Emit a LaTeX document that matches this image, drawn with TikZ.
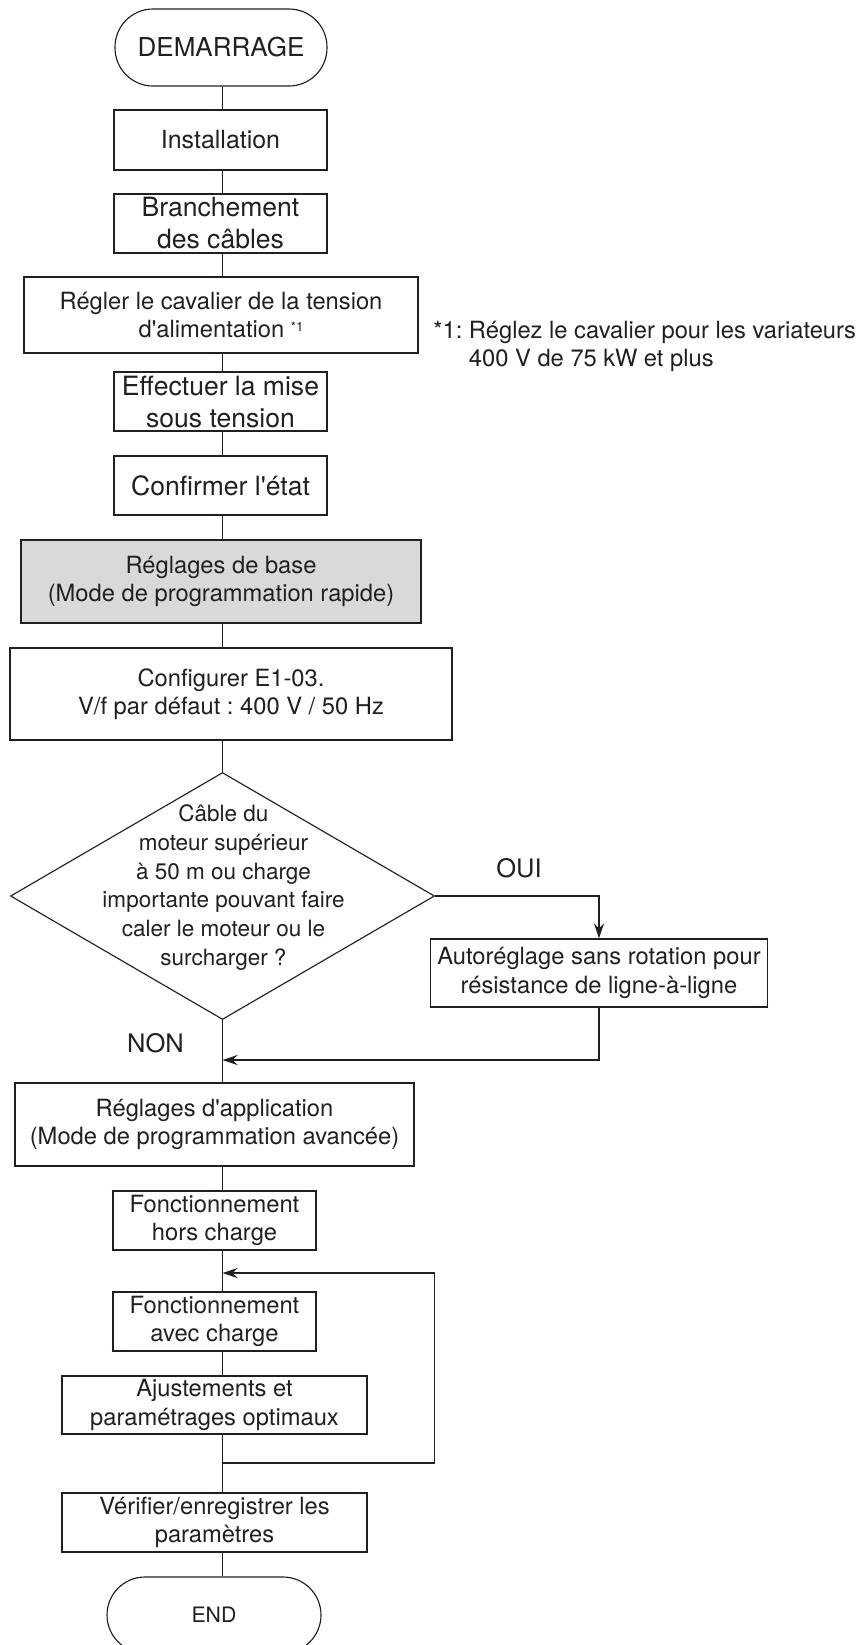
\documentclass[tikz,border=0pt]{standalone}
\usepackage{fontspec}
\setmainfont{TeX Gyre Heros}[Ligatures=TeXOff]
\usepackage{tikz}
\usetikzlibrary{arrows.meta,positioning,shapes.geometric}
\definecolor{ink}{HTML}{231F20}
\definecolor{shade}{HTML}{D9D9D9}
\frenchspacing
\newcommand{\largetxt}{\fontsize{15.1}{18.2}\selectfont}
\newcommand{\stepfont}{\fontsize{13.5}{16.2}\selectfont}
\newcommand{\askfont}{\fontsize{12.8}{16.3}\selectfont}
\newcommand{\answerfont}{\fontsize{14.5}{17}\selectfont}
\tikzset{
  block/.style={draw=ink, fill=white, line width=0.65pt, align=center,
                inner sep=0pt, text=ink, font=\stepfont},
  terminal/.style={block, rounded corners=0.76cm},
  decision/.style={diamond, draw=ink, fill=white, line width=0.65pt, inner sep=0pt},
  link/.style={draw=ink, line width=0.65pt},
  arrow/.style={link, -{Stealth[length=3mm,width=2mm]}},
  tag/.style={text=ink, inner sep=0pt, font=\stepfont}
}

\begin{document}
\begin{tikzpicture}[x=1cm,y=1cm]
  \useasboundingbox (0,0) rectangle (17.22,-32.90);
  \coordinate (spine) at (4.45,0);

  % main column, preparation steps
  \node[terminal,minimum width=4.24cm,minimum height=1.54cm,font=\fontsize{14.8}{17}\selectfont] (start) at (4.42,-0.95) {DEMARRAGE};
  \node[block,minimum width=4.26cm,minimum height=1.20cm,font=\fontsize{14.2}{17}\selectfont] (inst) at (4.41,-2.80) {Installation};
  \node[block,minimum width=4.26cm,minimum height=1.18cm,font=\largetxt] (cab) at (4.41,-4.47) {Branchement\\des câbles};
  \node[block,minimum width=7.88cm,minimum height=1.52cm] (jump) at (4.42,-6.30)
    {Régler le cavalier de la tension\\d'alimentation \raisebox{0.5ex}{\fontsize{7.5}{9}\selectfont *1}};
  \node[block,minimum width=4.26cm,minimum height=1.18cm,font=\largetxt] (power) at (4.41,-8.03) {Effectuer la mise\\sous tension};
  \node[block,minimum width=4.26cm,minimum height=1.18cm,font=\largetxt] (check) at (4.41,-9.71) {Confirmer l'état};
  \node[block,minimum width=8.00cm,minimum height=1.66cm,fill=shade] (basic) at (4.42,-11.63)
    {Réglages de base\\(Mode de programmation rapide)};
  \node[block,minimum width=8.84cm,minimum height=1.84cm] (vf) at (4.62,-13.88)
    {Configurer E1-03.\\V/f par défaut : 400 V / 50 Hz};

  % footnote
  \node[tag,anchor=west,align=left] (fn) at (8.66,-6.93)
    {*1: Réglez le cavalier pour les variateurs\\\phantom{*1: }400 V de 75 kW et plus};

  % decision and side branch
  \node[decision,minimum width=8.48cm,minimum height=4.94cm] (dec) at (4.45,-17.92) {};
  \node[tag,align=center,font=\askfont] (ask) at (4.47,-17.75)
    {Câble du\\moteur supérieur\\à 50 m ou charge\\importante pouvant faire\\caler le moteur ou le\\surcharger ?};
  \node[tag,font=\answerfont] (yes) at (10.38,-17.36) {OUI};
  \node[tag,font=\answerfont] (no) at (3.11,-20.86) {NON};
  \node[block,minimum width=6.74cm,minimum height=1.36cm] (tune) at (11.98,-19.46)
    {Autoréglage sans rotation pour\\résistance de ligne-à-ligne};

  % main column, run steps
  \node[block,minimum width=7.98cm,minimum height=1.66cm] (adv) at (4.29,-22.49)
    {Réglages d'application\\(Mode de programmation avancée)};
  \node[block,minimum width=4.06cm,minimum height=1.18cm] (nolo) at (4.29,-24.41) {Fonctionnement\\hors charge};
  \node[block,minimum width=4.06cm,minimum height=1.18cm] (load) at (4.29,-26.43) {Fonctionnement\\avec charge};
  \node[block,minimum width=6.10cm,minimum height=1.16cm] (opt) at (4.29,-28.10) {Ajustements et\\paramétrages optimaux};
  \node[block,minimum width=6.10cm,minimum height=1.18cm] (save) at (4.29,-30.45) {Vérifier/enregistrer les\\paramètres};
  \node[terminal,minimum width=4.28cm,minimum height=1.52cm,font=\fontsize{12.1}{15}\selectfont] (stop) at (4.28,-32.30) {END};

  % connectors
  \foreach \a/\b in {start/inst,inst/cab,cab/jump,jump/power,power/check,check/basic,basic/vf,vf/dec,
                     dec/adv,adv/nolo,nolo/load,load/opt,opt/save,save/stop}
    {\draw[link] (\a.south -| spine) -- (\b.north -| spine);}

  \coordinate (merge) at (4.45,-21.20);
  \coordinate (looptop) at (4.45,-25.46);
  \coordinate (loopbot) at (4.45,-29.26);
  \coordinate (loopedge) at (8.69,-29.26);

  \draw[arrow] (dec.east) -| (tune.north);
  \draw[arrow] (tune.south) |- (merge);
  \draw[arrow] (loopbot) -- (loopedge) |- (looptop);
\end{tikzpicture}
\end{document}
